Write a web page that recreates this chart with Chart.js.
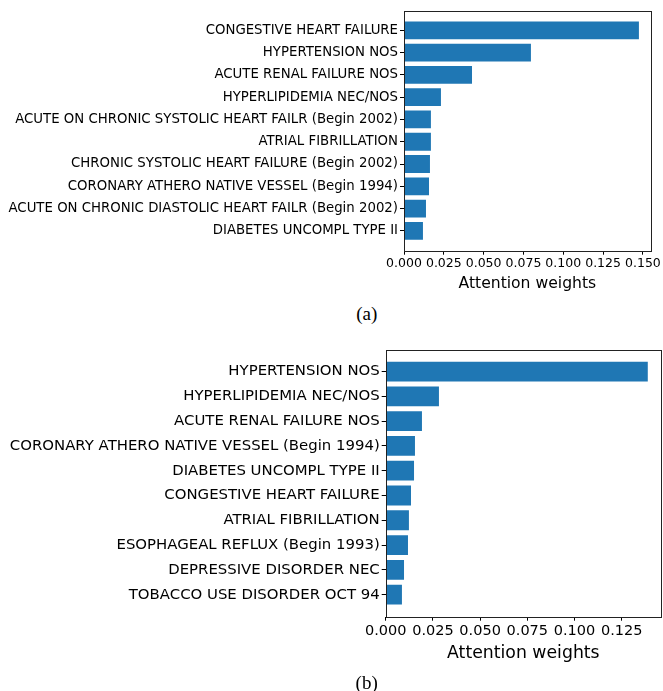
<!DOCTYPE html>
<html>
<head>
<meta charset="utf-8">
<script src="https://cdn.jsdelivr.net/npm/chart.js@4"></script>
<style>
  body { margin: 0; background: #fff; }
  #wrap { position: relative; width: 663px; height: 691px; overflow: hidden; }
  canvas { position: absolute; left: 0; }
  .cap { position: absolute; font: 19px "Liberation Serif", serif; color: #000;
         line-height: 1; transform: translate(-50%, -50%); white-space: nowrap; }
</style>
</head>
<body>
<div id="wrap">
  <canvas id="chart-a" width="663" height="300" style="top:0"></canvas>
  <div class="cap" style="left:366.7px; top:313px">(a)</div>
  <canvas id="chart-b" width="663" height="345" style="top:330px"></canvas>
  <div class="cap" style="left:366.7px; top:681.5px">(b)</div>
</div>
<script>
// --- DATOS ---
const labelsA = [
  'CONGESTIVE HEART FAILURE',
  'HYPERTENSION NOS',
  'ACUTE RENAL FAILURE NOS',
  'HYPERLIPIDEMIA NEC/NOS',
  'ACUTE ON CHRONIC SYSTOLIC HEART FAILR (Begin 2002)',
  'ATRIAL FIBRILLATION',
  'CHRONIC SYSTOLIC HEART FAILURE (Begin 2002)',
  'CORONARY ATHERO NATIVE VESSEL (Begin 1994)',
  'ACUTE ON CHRONIC DIASTOLIC HEART FAILR (Begin 2002)',
  'DIABETES UNCOMPL TYPE II'
];
const weightsA = [0.1475, 0.0797, 0.0427, 0.0232, 0.0169, 0.0169, 0.0163, 0.0157, 0.0138, 0.0119];
const ticksA = [0, 0.025, 0.05, 0.075, 0.1, 0.125, 0.15];

const labelsB = [
  'HYPERTENSION NOS',
  'HYPERLIPIDEMIA NEC/NOS',
  'ACUTE RENAL FAILURE NOS',
  'CORONARY ATHERO NATIVE VESSEL (Begin 1994)',
  'DIABETES UNCOMPL TYPE II',
  'CONGESTIVE HEART FAILURE',
  'ATRIAL FIBRILLATION',
  'ESOPHAGEAL REFLUX (Begin 1993)',
  'DEPRESSIVE DISORDER NEC',
  'TOBACCO USE DISORDER OCT 94'
];
const weightsB = [0.1388, 0.0282, 0.0192, 0.0155, 0.0150, 0.0134, 0.0123, 0.0118, 0.0097, 0.0086];
const ticksB = [0, 0.025, 0.05, 0.075, 0.1, 0.125];

const BAR_COLOR = '#1f77b4';
const FONT = '"DejaVu Sans", sans-serif';

// marco completo alrededor del área del gráfico (estilo matplotlib)
const framePlugin = {
  id: 'frame',
  afterDraw(chart) {
    const { ctx, chartArea: a } = chart;
    ctx.save();
    ctx.strokeStyle = '#222';
    ctx.lineWidth = 1;
    ctx.strokeRect(Math.round(a.left) + 0.5, Math.round(a.top) + 0.5,
                   Math.round(a.right - a.left), Math.round(a.bottom - a.top));
    ctx.restore();
  }
};

/**
 * Crea un gráfico de barras horizontales.
 */
function makeChart(canvasId, labels, values, xTicks, o) {
  const titleBottom = o.titleCenter + o.titleSize / 2;
  const points = values.map((v, i) => ({ x: v, y: i }));

  return new Chart(document.getElementById(canvasId), {
    type: 'bar',
    data: {
      datasets: [{
        data: points,
        backgroundColor: BAR_COLOR,
        borderWidth: 0,
        barPercentage: 1,
        categoryPercentage: 0.8
      }]
    },
    options: {
      indexAxis: 'y',
      responsive: false,
      animation: false,
      devicePixelRatio: 1,
      layout: {
        padding: { top: o.top, right: 663 - o.right, left: 0, bottom: o.canvasH - titleBottom }
      },
      plugins: { legend: { display: false }, tooltip: { enabled: false } },
      scales: {
        x: {
          type: 'linear',
          min: 0,
          max: o.xMax,
          border: { display: false },
          grid: { drawOnChartArea: false, drawTicks: true, tickLength: 4, color: '#000' },
          ticks: {
            color: '#000', font: { family: FONT, size: o.tickSize },
            padding: 2, autoSkip: false, maxRotation: 0, minRotation: 0,
            callback: v => v.toFixed(3)
          },
          title: {
            display: true, text: 'Attention weights', color: '#000',
            font: { family: FONT, size: o.titleSize, lineHeight: 1 }, padding: 0
          },
          afterBuildTicks: s => { s.ticks = xTicks.map(v => ({ value: v })); },
          afterFit: s => {
            s.height = titleBottom - o.bottom;
            s.paddingLeft = 0; s.paddingRight = 0;
          }
        },
        y: {
          type: 'linear',
          reverse: true,
          offset: false,
          min: -0.89,
          max: labels.length - 1 + 0.89,
          border: { display: false },
          grid: { offset: false, drawOnChartArea: false, drawTicks: true, tickLength: 4, color: '#000' },
          ticks: {
            color: '#000', font: { family: FONT, size: o.labelSize },
            padding: 2, autoSkip: false,
            callback: v => labels[v]
          },
          afterBuildTicks: s => { s.ticks = labels.map((_, i) => ({ value: i })); },
          afterFit: s => {
            s.width = o.left;
            s.paddingTop = 0; s.paddingBottom = 0;
          }
        }
      }
    },
    plugins: [framePlugin]
  });
}

makeChart('chart-a', labelsA, weightsA, ticksA, {
  xMax: 0.1549, top: 10.5, bottom: 250.7, left: 404, right: 650.7,
  canvasH: 300, titleCenter: 283.5, titleSize: 15.6, tickSize: 12.5, labelSize: 13.3
});

makeChart('chart-b', labelsB, weightsB, ticksB, {
  xMax: 0.1458, top: 19.5, bottom: 286.7, left: 385.7, right: 661,
  canvasH: 345, titleCenter: 324, titleSize: 17.3, tickSize: 14.5, labelSize: 14.9
});
</script>
</body>
</html>
